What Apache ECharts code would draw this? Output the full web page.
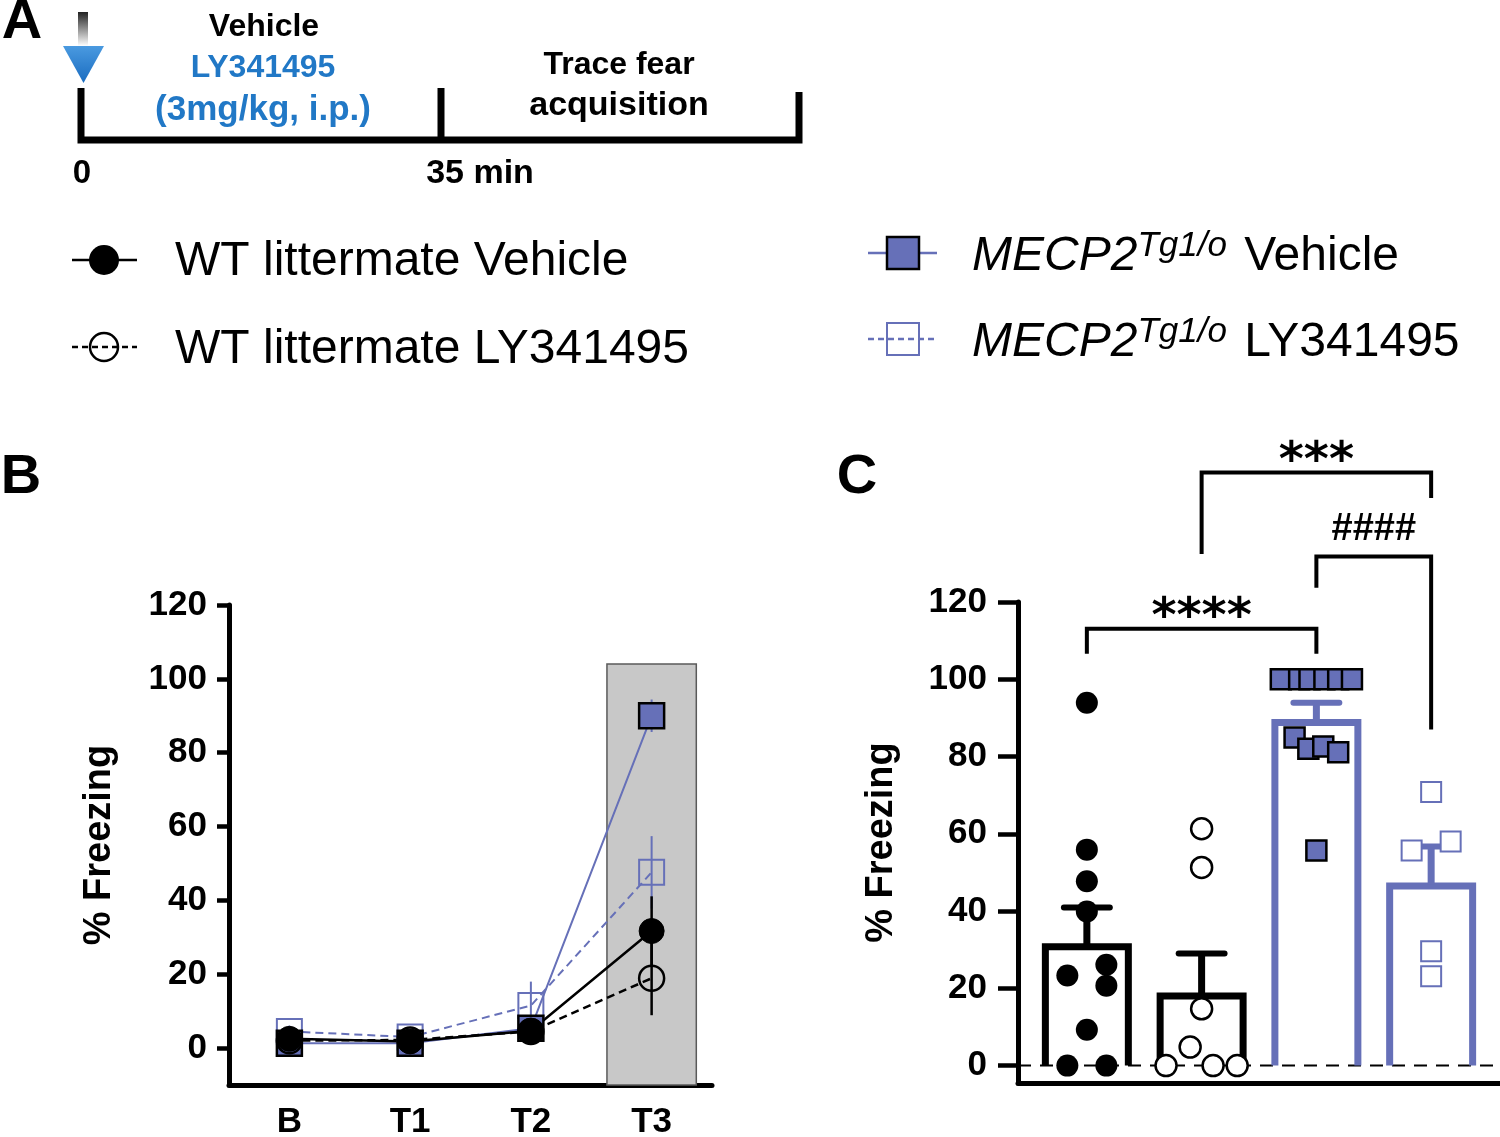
<!DOCTYPE html>
<html>
<head>
<meta charset="utf-8">
<script src="https://cdn.jsdelivr.net/npm/echarts/dist/echarts.min.js"></script>
<style>
html,body{margin:0;padding:0;background:#fff;}
#chart{width:1500px;height:1137px;}
</style>
</head>
<body>
<div id="chart"></div>
<script>
// ---------------- DATA ----------------
// Panel B: % freezing across baseline and trials (mean, SEM)
const phases = ['B', 'T1', 'T2', 'T3'];
const wtVehMean = [2.5, 1.8, 4.7, 31.7];
const wtVehSem  = [0.8, 0.6, 1.2, 9.4];
const wtLyMean  = [2.0, 2.2, 4.5, 18.9];
const wtLySem   = [0.8, 0.9, 1.3, 10.0];
const tgVehMean = [1.3, 1.3, 5.4, 90.0];
const tgVehSem  = [0.6, 0.5, 1.5, 4.4];
const tgLyMean  = [4.5, 3.0, 11.5, 47.6];
const tgLySem   = [1.6, 1.0, 6.5, 9.8];
const yTickValues = [0, 20, 40, 60, 80, 100, 120];
const shadePhase = 'T3';
const shadeTop = 104;

// Panel C: T3 freezing, individual animals + mean/SEM
const groupPos  = [1, 2, 3, 4];
const barMeans  = [31.7, 18.9, 89.7, 47.4];
const barSems   = [9.2, 10.1, 4.2, 9.3];
const wtVehPts  = [93.9, 55.9, 47.7, 39.9, 23.3, 26.1, 20.7, 9.3, 0, 0];
const wtVehJit  = [0, 0, 0, 0, -0.17, 0.17, 0.17, 0, -0.17, 0.17];
const wtLyPts   = [61.3, 51.3, 14.7, 4.8, 0, 0, 0];
const wtLyJit   = [0, 0, 0, -0.1, -0.31, 0.1, 0.31];
const tgVehPts  = [100, 100, 100, 100, 100, 100, 84.9, 82.0, 82.6, 81.1, 55.7];
const tgVehJit  = [-0.31, -0.15, -0.06, 0.07, 0.19, 0.31, -0.19, -0.07, 0.06, 0.19, 0];
const tgLyPts   = [70.8, 55.7, 58.0, 29.6, 23.1];
const tgLyJit   = [0, -0.17, 0.17, 0, 0];
const zeroRef = 0;
const bracketFrom  = [1, 2, 3];
const bracketTo    = [3, 4, 4];
const bracketY     = [113.1, 153.5, 131.8];
const bracketLeftEnd  = [106.6, 132.4, 123.7];
const bracketRightEnd = [106.6, 146.9, 87.0];
const bracketLabels = ['****', '***', '####'];

// Legend / timeline texts
const legendNames = ['WT littermate Vehicle', 'WT littermate LY341495'];
const tgName = 'MECP2';
const tgSup = 'Tg1/o';
const tgSuffix = [' Vehicle', ' LY341495'];
const yName = '% Freezing';

// ---------------- STYLE ----------------
const FF = '"Liberation Sans", Arial, Helvetica, sans-serif';
const BLUE = '#6670b8';
const TXTBLUE = '#2178c6';
const BLACK = '#000';
const yMinB = -10, yMinC = -4.5;

const chart = echarts.init(document.getElementById('chart'), null, {renderer: 'canvas'});

function errBarSeriesB(mean, sem, color, width) {
  return {
    type: 'custom', xAxisIndex: 0, yAxisIndex: 0, z: 2, silent: true,
    data: phases.map((p, i) => [i, mean[i], sem[i]]),
    renderItem: function (params, api) {
      const i = api.value(0), m = api.value(1), s = api.value(2);
      const a = api.coord([i, m - s]), b = api.coord([i, m + s]);
      return {type: 'line', shape: {x1: a[0], y1: a[1], x2: b[0], y2: b[1]},
              style: {stroke: color, lineWidth: width}};
    }
  };
}

function lineSeries(name, mean, symbol, fill, border, borderW, lineColor, lineW, dashed) {
  return {
    name: name, type: 'line', xAxisIndex: 0, yAxisIndex: 0, z: 3, silent: true,
    data: mean, symbol: symbol, symbolSize: 25, showAllSymbol: true,
    itemStyle: {color: fill, borderColor: border, borderWidth: borderW},
    lineStyle: {color: lineColor, width: lineW, type: dashed ? [8, 5] : 'solid'},
    emphasis: {disabled: true}
  };
}

const groupColors = [BLACK, BLACK, BLUE, BLUE];
const barHalfOuter = 0.392; // half bar width in x units
const barLineW = 7;

function scatterC(pts, jit, idx, symbol, size, fill, border, bw) {
  return {
    type: 'scatter', xAxisIndex: 1, yAxisIndex: 1, z: 4, silent: true,
    symbol: symbol, symbolSize: size,
    data: pts.map((v, i) => [groupPos[idx] + jit[i], v]),
    itemStyle: {color: fill, borderColor: border, borderWidth: bw, opacity: 1},
    emphasis: {disabled: true}
  };
}

const axisLabelStyle = {color: BLACK, fontSize: 35, fontWeight: 'bold', fontFamily: FF};

const option = {
  animation: false,
  backgroundColor: '#fff',
  grid: [
    {left: 229, top: 605, width: 483, height: 480, containLabel: false, outerBoundsMode: 'none'},
    {left: 1018, top: 602, width: 482, height: 481, containLabel: false, outerBoundsMode: 'none'}
  ],
  xAxis: [
    {gridIndex: 0, type: 'category', data: phases, boundaryGap: true,
     axisLine: {onZero: false, lineStyle: {color: BLACK, width: 5}},
     axisTick: {alignWithLabel: true, length: 13, lineStyle: {color: BLACK, width: 4.5}},
     axisLabel: Object.assign({margin: 20}, axisLabelStyle),
     splitLine: {show: false}},
    {gridIndex: 1, type: 'value', min: 0.4, max: 4.6,
     axisLine: {onZero: false, lineStyle: {color: BLACK, width: 5}},
     axisTick: {show: false}, axisLabel: {show: false}, splitLine: {show: false}}
  ],
  yAxis: [
    {gridIndex: 0, type: 'value', min: yMinB, max: 120,
     axisLine: {show: true, onZero: false, lineStyle: {color: BLACK, width: 5}},
     axisTick: {show: true, length: 12, customValues: yTickValues, lineStyle: {color: BLACK, width: 4.5}},
     axisLabel: Object.assign({margin: 22, customValues: yTickValues}, axisLabelStyle),
     splitLine: {show: false},
     name: yName, nameLocation: 'middle', nameGap: 110,
     nameTextStyle: {color: BLACK, fontSize: 38, fontWeight: 'bold', fontFamily: FF}},
    {gridIndex: 1, type: 'value', min: yMinC, max: 120,
     axisLine: {show: true, onZero: false, lineStyle: {color: BLACK, width: 5}},
     axisTick: {show: true, length: 20, customValues: yTickValues, lineStyle: {color: BLACK, width: 4.5}},
     axisLabel: Object.assign({margin: 31, customValues: yTickValues}, axisLabelStyle),
     splitLine: {show: false},
     name: yName, nameLocation: 'middle', nameGap: 117,
     nameTextStyle: {color: BLACK, fontSize: 38, fontWeight: 'bold', fontFamily: FF}}
  ],
  series: [
    // ---- Panel B ----
    {type: 'custom', xAxisIndex: 0, yAxisIndex: 0, z: 1, silent: true,
     data: [[phases.indexOf(shadePhase), shadeTop]],
     renderItem: function (params, api) {
       const i = api.value(0);
       const top = api.coord([i, api.value(1)]);
       const bot = api.coord([i, yMinB]);
       const w = api.size([1, 0])[0] * 0.74;
       return {type: 'rect', shape: {x: top[0] - w / 2, y: top[1], width: w, height: bot[1] - top[1]},
               style: {fill: '#c8c8c8', stroke: '#5a5a5a', lineWidth: 1.5}};
     }},
    errBarSeriesB(tgLyMean, tgLySem, BLUE, 2),
    errBarSeriesB(tgVehMean, tgVehSem, BLUE, 2),
    errBarSeriesB(wtLyMean, wtLySem, BLACK, 2.5),
    errBarSeriesB(wtVehMean, wtVehSem, BLACK, 2.5),
    lineSeries('tgLy', tgLyMean, 'rect', 'none', BLUE, 2, BLUE, 2, true),
    lineSeries('tgVeh', tgVehMean, 'rect', BLUE, BLACK, 2.5, BLUE, 2, false),
    lineSeries('wtLy', wtLyMean, 'circle', 'none', BLACK, 2.5, BLACK, 2.5, true),
    lineSeries('wtVeh', wtVehMean, 'circle', BLACK, BLACK, 1, BLACK, 2.5, false),

    // ---- Panel C ----
    {type: 'custom', xAxisIndex: 1, yAxisIndex: 1, z: 1, silent: true,
     data: [[0, zeroRef]],
     renderItem: function (params, api) {
       const cs = params.coordSys;
       const y = api.coord([1, api.value(1)])[1];
       return {type: 'line', shape: {x1: cs.x, y1: y, x2: cs.x + cs.width, y2: y},
               style: {stroke: BLACK, lineWidth: 2, lineDash: [13, 9]}};
     }},
    {type: 'custom', xAxisIndex: 1, yAxisIndex: 1, z: 2, silent: true,
     data: groupPos.map((x, i) => [x, barMeans[i], i]),
     renderItem: function (params, api) {
       const x = api.value(0), m = api.value(1), idx = api.value(2);
       const t = api.coord([x, m]), z0 = api.coord([x, 0]);
       const hw = api.size([barHalfOuter, 0])[0] - barLineW / 2;
       const yt = t[1] + barLineW / 2;
       return {type: 'polyline',
               shape: {points: [[t[0] - hw, z0[1]], [t[0] - hw, yt], [t[0] + hw, yt], [t[0] + hw, z0[1]]]},
               style: {stroke: groupColors[idx], lineWidth: barLineW, fill: null, lineJoin: 'miter'}};
     }},
    {type: 'custom', xAxisIndex: 1, yAxisIndex: 1, z: 2, silent: true,
     data: groupPos.map((x, i) => [x, barMeans[i], barSems[i], i]),
     renderItem: function (params, api) {
       const x = api.value(0), m = api.value(1), s = api.value(2), idx = api.value(3);
       const a = api.coord([x, m]), b = api.coord([x, m + s]);
       const cw = api.size([0.2, 0])[0];
       const c = groupColors[idx];
       return {type: 'group', children: [
         {type: 'line', shape: {x1: a[0], y1: a[1] + 2, x2: b[0], y2: b[1]}, style: {stroke: c, lineWidth: 7}},
         {type: 'line', shape: {x1: b[0] - cw, y1: b[1], x2: b[0] + cw, y2: b[1]}, style: {stroke: c, lineWidth: 6, lineCap: 'round'}}
       ]};
     }},
    scatterC(wtVehPts, wtVehJit, 0, 'circle', 22, BLACK, BLACK, 0),
    scatterC(wtLyPts, wtLyJit, 1, 'circle', 21, '#fff', BLACK, 2.5),
    scatterC(tgVehPts, tgVehJit, 2, 'rect', 20, BLUE, BLACK, 2.5),
    scatterC(tgLyPts, tgLyJit, 3, 'rect', 20, '#fff', BLUE, 2),
    {type: 'custom', xAxisIndex: 1, yAxisIndex: 1, z: 5, silent: true, clip: false,
     data: bracketFrom.map((f, i) => [f, bracketY[i], bracketTo[i], bracketLeftEnd[i], bracketRightEnd[i], i]),
     renderItem: function (params, api) {
       const x1 = api.value(0), y = api.value(1), x2 = api.value(2);
       const l = api.value(3), r = api.value(4), idx = api.value(5);
       const pL = api.coord([x1, l]), pTL = api.coord([x1, y]);
       const pTR = api.coord([x2, y]), pR = api.coord([x2, r]);
       const lab = bracketLabels[idx];
       const isHash = lab.indexOf('#') >= 0;
       return {type: 'group', children: [
         {type: 'polyline', shape: {points: [pL, pTL, pTR, pR]},
          style: {stroke: BLACK, lineWidth: 4, fill: null, lineJoin: 'miter'}},
         {type: 'text', style: {
            text: lab, x: (pTL[0] + pTR[0]) / 2, y: pTL[1] + (isHash ? -27 : -10),
            align: 'center', verticalAlign: 'middle', fill: BLACK,
            fontSize: isHash ? 38 : 48, fontWeight: 'bold',
            fontFamily: isHash ? FF : '"DejaVu Sans", sans-serif'}}
       ]};
     }}
  ],
  graphic: {elements: [
    {type: 'text', style: {text: 'A', x: 22, y: 23, align: 'center', verticalAlign: 'middle', fill: BLACK, fontSize: 56, fontWeight: 'bold', fontFamily: FF}},
    {type: 'text', style: {text: 'B', x: 21, y: 478, align: 'center', verticalAlign: 'middle', fill: BLACK, fontSize: 56, fontWeight: 'bold', fontFamily: FF}},
    {type: 'text', style: {text: 'C', x: 857, y: 478, align: 'center', verticalAlign: 'middle', fill: BLACK, fontSize: 56, fontWeight: 'bold', fontFamily: FF}},
    {type: 'rect', shape: {x: 78, y: 12, width: 10, height: 34},
     style: {fill: new echarts.graphic.LinearGradient(0, 0, 0, 1, [{offset: 0, color: '#222'}, {offset: 1, color: '#fff'}])}},
    {type: 'polygon', shape: {points: [[63, 46], [104, 46], [83.5, 83]]},
     style: {fill: new echarts.graphic.LinearGradient(0, 0, 0, 1, [{offset: 0, color: '#4a9ae0'}, {offset: 1, color: '#1a6cc0'}])}},
    {type: 'polyline', shape: {points: [[81, 88], [81, 140], [799, 140], [799, 92]]},
     style: {stroke: BLACK, lineWidth: 7, fill: null, lineJoin: 'miter'}},
    {type: 'line', shape: {x1: 441, y1: 88, x2: 441, y2: 140}, style: {stroke: BLACK, lineWidth: 7}},
    {type: 'text', style: {text: 'Vehicle', x: 264, y: 27, align: 'center', verticalAlign: 'middle', fill: BLACK, fontSize: 32, fontWeight: 'bold', fontFamily: FF}},
    {type: 'text', style: {text: 'LY341495', x: 263, y: 68, align: 'center', verticalAlign: 'middle', fill: TXTBLUE, fontSize: 32, fontWeight: 'bold', fontFamily: FF}},
    {type: 'text', style: {text: '(3mg/kg, i.p.)', x: 263, y: 110, align: 'center', verticalAlign: 'middle', fill: TXTBLUE, fontSize: 35, fontWeight: 'bold', fontFamily: FF}},
    {type: 'text', style: {text: 'Trace fear', x: 619, y: 65, align: 'center', verticalAlign: 'middle', fill: BLACK, fontSize: 32, fontWeight: 'bold', fontFamily: FF}},
    {type: 'text', style: {text: 'acquisition', x: 619, y: 106, align: 'center', verticalAlign: 'middle', fill: BLACK, fontSize: 34, fontWeight: 'bold', fontFamily: FF}},
    {type: 'text', style: {text: '0', x: 82, y: 174, align: 'center', verticalAlign: 'middle', fill: BLACK, fontSize: 33, fontWeight: 'bold', fontFamily: FF}},
    {type: 'text', style: {text: '35 min', x: 480, y: 174, align: 'center', verticalAlign: 'middle', fill: BLACK, fontSize: 34, fontWeight: 'bold', fontFamily: FF}},
    {type: 'line', shape: {x1: 72, y1: 260, x2: 137, y2: 260}, style: {stroke: BLACK, lineWidth: 2.5}},
    {type: 'circle', shape: {cx: 104, cy: 260, r: 15}, style: {fill: BLACK}},
    {type: 'text', style: {text: legendNames[0], x: 175, y: 262, align: 'left', verticalAlign: 'middle', fill: BLACK, fontSize: 48, fontFamily: FF}},
    {type: 'line', shape: {x1: 72, y1: 347, x2: 137, y2: 347}, style: {stroke: BLACK, lineWidth: 2.5, lineDash: [6, 4]}},
    {type: 'circle', shape: {cx: 104, cy: 347, r: 14}, style: {fill: null, stroke: BLACK, lineWidth: 2.5}},
    {type: 'text', style: {text: legendNames[1], x: 175, y: 350, align: 'left', verticalAlign: 'middle', fill: BLACK, fontSize: 48, fontFamily: FF}},
    {type: 'line', shape: {x1: 868, y1: 253, x2: 937, y2: 253}, style: {stroke: BLUE, lineWidth: 2.5}},
    {type: 'rect', shape: {x: 887, y: 237, width: 32, height: 32}, style: {fill: BLUE, stroke: BLACK, lineWidth: 2.5}},
    {type: 'line', shape: {x1: 868, y1: 339, x2: 937, y2: 339}, style: {stroke: BLUE, lineWidth: 2.5, lineDash: [6, 4]}},
    {type: 'rect', shape: {x: 887, y: 323, width: 32, height: 32}, style: {fill: null, stroke: BLUE, lineWidth: 2}},
    {type: 'text', style: {text: '{i|' + tgName + '}{s|' + tgSup + '}{n|' + tgSuffix[0] + '}', x: 972, y: 257, align: 'left', verticalAlign: 'middle',
      rich: {i: {fontSize: 48, fontStyle: 'italic', fontFamily: FF, fill: BLACK, lineHeight: 56},
             s: {fontSize: 35, fontStyle: 'italic', fontFamily: FF, fill: BLACK, lineHeight: 35, verticalAlign: 'top', padding: [0, 4, 0, 0]},
             n: {fontSize: 48, fontFamily: FF, fill: BLACK, lineHeight: 56}}}},
    {type: 'text', style: {text: '{i|' + tgName + '}{s|' + tgSup + '}{n|' + tgSuffix[1] + '}', x: 972, y: 343, align: 'left', verticalAlign: 'middle',
      rich: {i: {fontSize: 48, fontStyle: 'italic', fontFamily: FF, fill: BLACK, lineHeight: 56},
             s: {fontSize: 35, fontStyle: 'italic', fontFamily: FF, fill: BLACK, lineHeight: 35, verticalAlign: 'top', padding: [0, 4, 0, 0]},
             n: {fontSize: 48, fontFamily: FF, fill: BLACK, lineHeight: 56}}}}
  ]}
};
chart.setOption(option);
</script>
</body>
</html>
